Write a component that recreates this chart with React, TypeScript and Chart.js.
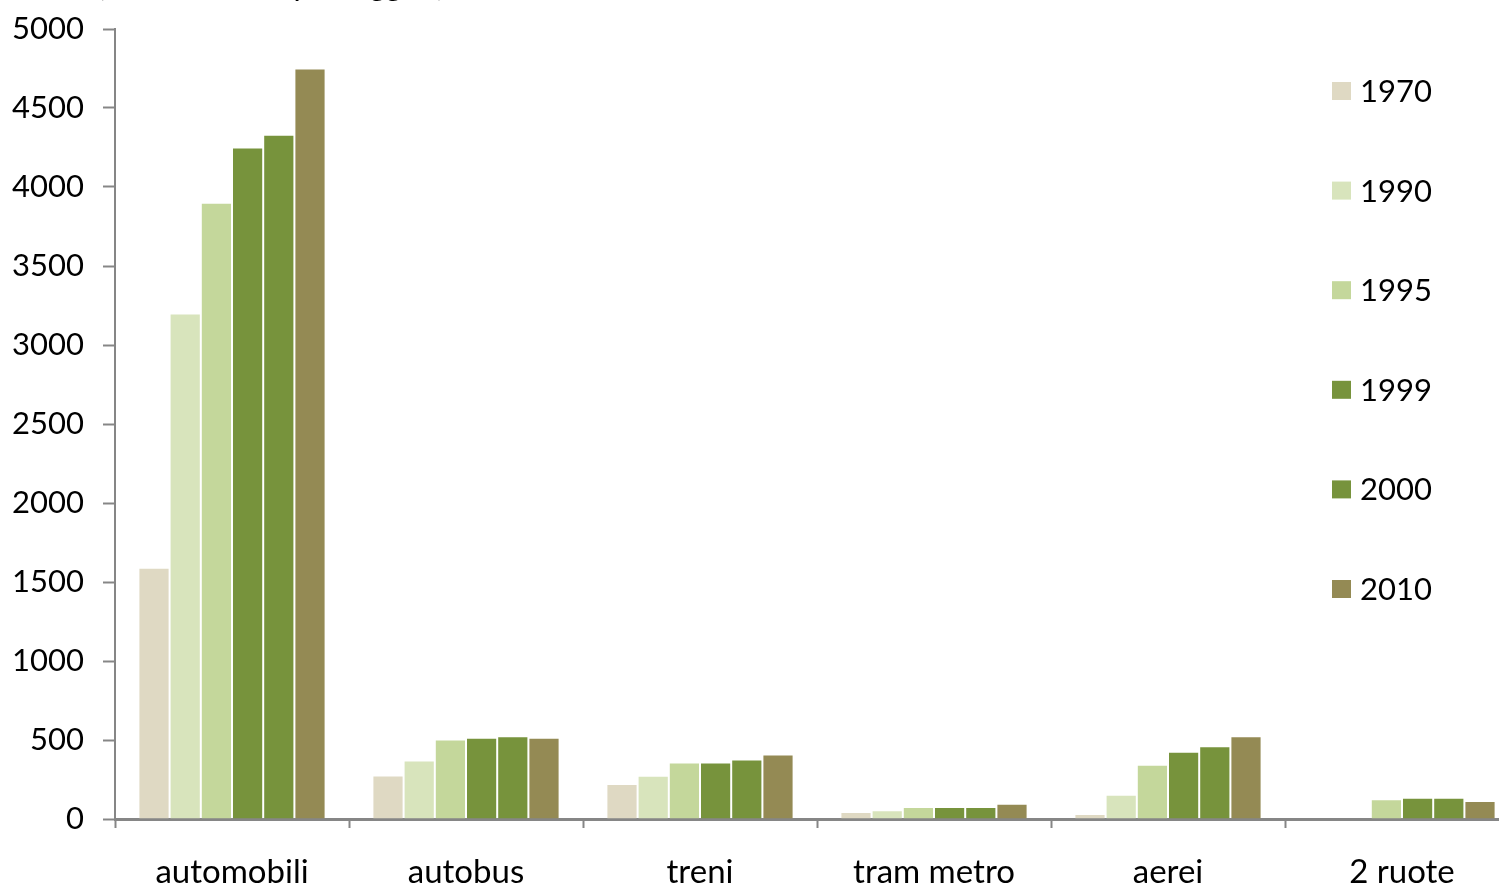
import { useEffect, useRef } from "react";
import { Chart, registerables } from "chart.js";

Chart.register(...registerables);

// Modal split: passenger traffic by mode and year
const categories = ["automobili", "autobus", "treni", "tram metro", "aerei", "2 ruote"];
const years = ["1970", "1990", "1995", "1999", "2000", "2010"];

const v1970 = [1590, 275, 222, 44, 32, null];
const v1990 = [3200, 370, 274, 55, 154, null];
const v1995 = [3900, 503, 357, 76, 344, 125];
const v1999 = [4250, 514, 357, 76, 426, 135];
const v2000 = [4330, 524, 377, 76, 460, 135];
const v2010 = [4750, 514, 409, 97, 523, 114];

const yMin = 0;
const yMax = 5000;
const yStep = 500;

const seriesColors = ["#DFD9C3", "#D8E4BC", "#C4D79B", "#77933C", "#77933C", "#948A54"];
const unitTitle = "(miliardi di km passeggeri)";

const FONT = "Lato, 'Open Sans', sans-serif";
const AXIS_GREY = "#868686";

// Vertical legend drawn over the right side of the plot
const sideLegend = {
  id: "sideLegend",
  afterDraw(chart: any) {
    const { ctx } = chart;
    ctx.save();
    ctx.font = `31px ${FONT}`;
    ctx.textBaseline = "middle";
    ctx.textAlign = "left";
    chart.data.datasets.forEach((ds: any, i: number) => {
      const cy = 91 + i * 99.6;
      ctx.fillStyle = ds.backgroundColor;
      ctx.fillRect(1332, cy - 9, 19, 18);
      ctx.fillStyle = "#000";
      ctx.fillText(ds.label, 1360, cy + 1);
    });
    ctx.restore();
  },
};

// Unit caption sitting just above the top edge
const unitCaption = {
  id: "unitCaption",
  afterDraw(chart: any) {
    const { ctx } = chart;
    ctx.save();
    ctx.font = `31px ${FONT}`;
    ctx.textBaseline = "alphabetic";
    ctx.textAlign = "left";
    ctx.fillStyle = "#000";
    ctx.fillText(unitTitle, 97, -4);
    ctx.restore();
  },
};

export default function App() {
  const canvasRef = useRef<HTMLCanvasElement | null>(null);

  useEffect(() => {
    const canvas = canvasRef.current;
    if (!canvas) return;
    const values = [v1970, v1990, v1995, v1999, v2000, v2010];
    const chart = new Chart(canvas, {
      type: "bar",
      data: {
        labels: categories,
        datasets: years.map((y, i) => ({
          label: y,
          data: values[i],
          backgroundColor: seriesColors[i],
          borderColor: "rgba(255,255,255,0.2)",
          borderWidth: 1,
          categoryPercentage: 0.8,
          barPercentage: 1.0,
        })),
      },
      options: {
        responsive: false,
        animation: false,
        devicePixelRatio: 1,
        layout: { padding: { top: 29, right: 21, left: 0, bottom: 0 } },
        plugins: {
          legend: { display: false },
          tooltip: { enabled: false },
          title: { display: false },
        },
        scales: {
          x: {
            offset: true,
            grid: {
              offset: true,
              drawOnChartArea: false,
              drawTicks: true,
              tickLength: 9,
              tickWidth: 2,
              tickColor: AXIS_GREY,
              color: AXIS_GREY,
            },
            border: { display: true, color: AXIS_GREY, width: 3 },
            ticks: {
              color: "#000",
              font: { family: FONT, size: 33 },
              padding: 25,
              maxRotation: 0,
              autoSkip: false,
            },
            afterFit: (scale: any) => {
              scale.height = 69;
              scale.paddingLeft = 0;
              scale.paddingRight = 0;
            },
          },
          y: {
            min: yMin,
            max: yMax,
            grid: {
              drawOnChartArea: false,
              drawTicks: true,
              tickLength: 12,
              tickWidth: 2,
              tickColor: AXIS_GREY,
              color: AXIS_GREY,
            },
            border: { display: true, color: AXIS_GREY, width: 2 },
            ticks: {
              stepSize: yStep,
              color: "#000",
              font: { family: FONT, size: 31 },
              padding: 19,
              callback: (v: any) => String(v),
            },
            afterFit: (scale: any) => {
              scale.width = 115;
              scale.paddingTop = 0;
              scale.paddingBottom = 0;
            },
          },
        },
      },
      plugins: [sideLegend, unitCaption],
    });
    return () => chart.destroy();
  }, []);

  return (
    <div
      style={{
        position: "fixed",
        left: 0,
        top: 0,
        width: "100vw",
        height: "100vh",
        overflow: "hidden",
        background: "#fff",
      }}
    >
      <canvas
        ref={canvasRef}
        width={1540}
        height={888}
        style={{ display: "block", width: 1540, height: 888 }}
      />
    </div>
  );
}
